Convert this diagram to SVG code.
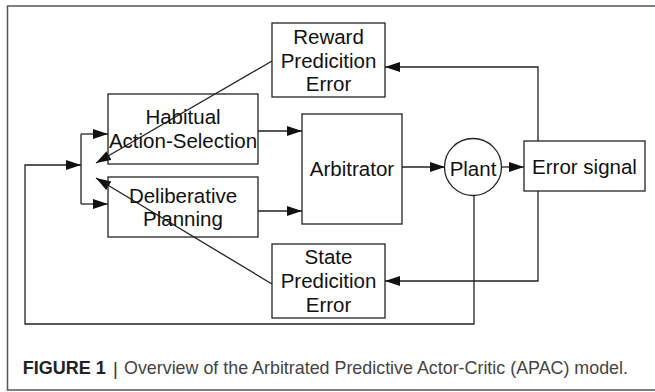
<svg xmlns="http://www.w3.org/2000/svg" width="655" height="392" viewBox="0 0 655 392">
  <style>
    .box { fill: #fff; stroke: #222; stroke-width: 1.3; }
    .lbl { font-family: "Liberation Sans", Arial, sans-serif; font-size: 20.5px; fill: #111; text-anchor: middle; }
    .wire { fill: none; stroke: #222; stroke-width: 1.3; }
    .cap { font-family: "Liberation Sans", Arial, sans-serif; font-size: 18.5px; }
  </style>
  <defs>
    <marker id="arrow" markerUnits="userSpaceOnUse" markerWidth="16" markerHeight="11" refX="15" refY="5" orient="auto">
      <path d="M0,0 L15,5 L0,10 z" fill="#111"/>
    </marker>
  </defs>

  <rect width="655" height="392" fill="#fff"/>
  <!-- outer frame, open on the right -->
  <path d="M660,6 H7.5 V390 H660" fill="none" stroke="#555" stroke-width="1.5"/>

  <g id="connectors">
    <!-- error signal feedback to the two prediction-error units -->
    <path class="wire" d="M538,141 V67 H385" marker-end="url(#arrow)"/>
    <path class="wire" d="M538,191 V281 H385" marker-end="url(#arrow)"/>
    <!-- prediction errors to the summing junction -->
    <path class="wire" d="M272,61 L96,163" marker-end="url(#arrow)"/>
    <path class="wire" d="M272,284 L96,178" marker-end="url(#arrow)"/>
    <!-- plant output loop back to the controllers -->
    <path class="wire" d="M474,196 V324 H25 V165 H81" marker-end="url(#arrow)"/>
    <path class="wire" d="M81,134 V204"/>
    <path class="wire" d="M81,134 H108" marker-end="url(#arrow)"/>
    <path class="wire" d="M81,204 H108" marker-end="url(#arrow)"/>
    <!-- controllers to arbitrator -->
    <path class="wire" d="M258,131 H302" marker-end="url(#arrow)"/>
    <path class="wire" d="M258,211 H302" marker-end="url(#arrow)"/>
    <!-- arbitrator to plant to error signal -->
    <path class="wire" d="M402,167 H445" marker-end="url(#arrow)"/>
    <path class="wire" d="M502,167 H524" marker-end="url(#arrow)"/>
  </g>

  <g id="reward-error">
    <rect class="box" x="272" y="23" width="113" height="74"/>
    <text class="lbl" x="328.5" y="43.5">Reward</text>
    <text class="lbl" x="328.5" y="67.5">Predicition</text>
    <text class="lbl" x="328.5" y="91">Error</text>
  </g>

  <g id="habitual">
    <rect class="box" x="108" y="94" width="150" height="70" fill-opacity="0"/>
    <text class="lbl" x="183" y="124">Habitual</text>
    <text class="lbl" x="183" y="148">Action-Selection</text>
  </g>

  <g id="deliberative">
    <rect class="box" x="108" y="177" width="150" height="60" fill-opacity="0"/>
    <text class="lbl" x="183" y="203">Deliberative</text>
    <text class="lbl" x="183" y="226">Planning</text>
  </g>

  <g id="arbitrator">
    <rect class="box" x="302" y="114" width="100" height="110"/>
    <text class="lbl" x="352" y="176">Arbitrator</text>
  </g>

  <g id="plant">
    <circle class="box" cx="473" cy="167" r="28.5"/>
    <text class="lbl" x="473" y="176">Plant</text>
  </g>

  <g id="error-signal">
    <rect class="box" x="524" y="141" width="121" height="50"/>
    <text class="lbl" x="584.5" y="174">Error signal</text>
  </g>

  <g id="state-error">
    <rect class="box" x="272" y="244" width="113" height="74"/>
    <text class="lbl" x="328.5" y="264">State</text>
    <text class="lbl" x="328.5" y="288">Predicition</text>
    <text class="lbl" x="328.5" y="312">Error</text>
  </g>

  <g id="caption">
    <text class="cap" x="22.7" y="373.5" font-weight="bold" fill="#222" textLength="83" lengthAdjust="spacingAndGlyphs">FIGURE 1</text>
    <text class="cap" x="113" y="375" fill="#333" font-size="21">|</text>
    <text class="cap" x="124" y="373.5" fill="#444" textLength="504" lengthAdjust="spacingAndGlyphs">Overview of the Arbitrated Predictive Actor-Critic (APAC) model.</text>
  </g>
</svg>
